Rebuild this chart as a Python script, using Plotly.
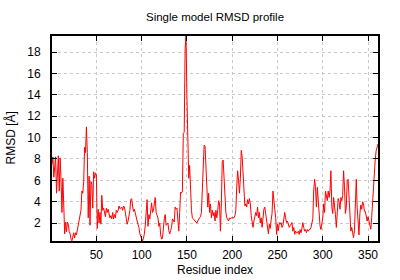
import plotly.graph_objects as go

residues = list(range(1, 362))
rmsd = [
    7.5, 8.2, 6.3, 7.6, 8.2, 4.8, 6.6, 8.3, 5.0, 8.1,
    6.0, 3.0, 6.2, 1.8, 1.0, 2.1, 1.2, 2.1, 1.9, 1.2,
    1.0, 0.5, 0.35, 0.7, 1.1, 0.6, 1.1, 0.9, 1.4, 1.6,
    2.3, 3.0, 3.2, 5.0, 4.8, 5.9, 9.1, 8.6, 11.0, 8.6,
    2.5, 6.4, 1.8, 5.9, 5.6, 3.4, 6.8, 6.2, 6.7, 6.5,
    1.5, 3.3, 2.0, 3.0, 1.9, 4.6, 3.2, 3.4, 3.0, 2.6,
    3.4, 3.0, 3.3, 2.85, 2.5, 2.7, 2.4, 3.0, 2.4, 2.8,
    2.5, 3.2, 3.0, 3.2, 3.6, 3.35, 3.4, 3.5, 3.2, 3.6,
    3.5, 2.9, 2.4, 1.9, 2.2, 2.6, 3.2, 4.2, 4.3, 3.6,
    3.1, 3.3, 2.8, 2.5, 2.2, 1.9, 1.6, 1.0, 0.7, 0.5,
    0.33, 0.6, 1.0, 1.8, 3.3, 4.2, 1.7, 2.8, 2.4, 3.3,
    3.9, 3.0, 3.2, 3.8, 4.4, 3.0, 2.7, 2.5, 1.7, 2.0,
    0.9, 0.5, 0.6, 2.0, 2.4, 2.8, 1.8, 1.9, 2.0, 1.3,
    1.0, 1.3, 1.6, 2.4, 2.2, 2.1, 3.5, 3.3, 3.4, 2.5,
    1.25, 3.0, 4.9, 4.8, 5.0, 10.4, 10.5, 18.3, 19.5, 13.8,
    8.2, 6.2, 7.4, 4.0, 3.2, 2.5, 2.4, 2.3, 2.2, 2.1,
    2.0, 2.2, 2.4, 2.5, 2.6, 3.0, 5.1, 7.3, 9.3, 9.2,
    7.7, 6.0, 3.5, 4.8, 3.0, 3.8, 2.5, 3.2, 2.7, 3.0,
    2.2, 3.2, 2.5, 3.2, 4.1, 3.8, 1.25, 3.8, 7.7, 7.9,
    6.2, 3.3, 3.0, 2.5, 2.4, 2.2, 2.5, 2.4, 2.5, 2.5,
    2.5, 2.5, 2.7, 3.2, 5.4, 6.9, 6.0, 4.8, 6.2, 8.8,
    8.2, 6.6, 4.5, 3.6, 3.8, 3.5, 4.2, 3.8, 4.3, 3.8,
    2.7, 1.9, 1.6, 2.2, 2.5, 3.0, 2.7, 3.5, 2.5, 3.0,
    2.0, 2.5, 1.6, 2.9, 3.3, 3.5, 2.85, 2.3, 1.4, 1.0,
    1.9, 1.5, 2.3, 2.9, 5.0, 4.4, 3.3, 2.5, 0.95, 1.9,
    1.3, 2.05, 1.9, 2.05, 1.6, 1.75, 2.4, 3.0, 2.5, 2.05,
    2.2, 1.8, 1.6, 1.75, 2.0, 2.05, 1.25, 1.6, 0.95, 1.25,
    1.1, 1.1, 1.25, 0.95, 1.4, 1.1, 1.5, 2.05, 1.6, 1.25,
    1.4, 1.1, 1.4, 1.25, 1.4, 1.4, 1.6, 2.2, 2.4, 5.0,
    6.1, 5.35, 3.5, 5.35, 3.8, 2.2, 1.75, 1.4, 1.9, 2.5,
    3.8, 3.0, 5.0, 4.6, 4.1, 5.0, 4.4, 5.0, 6.9, 3.5,
    2.9, 4.4, 3.8, 2.8, 1.6, 3.3, 4.3, 4.0, 3.3, 4.4,
    4.1, 4.6, 6.9, 5.4, 2.9, 3.5, 6.0, 6.1, 4.1, 2.0,
    1.25, 1.6, 0.9, 0.64, 1.3, 3.2, 6.1, 3.5, 1.9, 0.9,
    2.9, 3.7, 3.3, 4.0, 3.8, 3.1, 3.1, 2.6, 2.2, 2.6,
    2.2, 1.9, 1.43, 2.5, 4.1, 4.4, 6.0, 8.0, 8.8, 9.3,
    9.4,
]
x_ticks = [50, 100, 150, 200, 250, 300, 350]
y_ticks = [2, 4, 6, 8, 10, 12, 14, 16, 18]

FONT = "Liberation Sans, Arial, sans-serif"
TXT = dict(family=FONT, size=12, color="black")

fig = go.Figure(go.Scatter(
    x=residues, y=rmsd, mode="lines",
    line=dict(color="#ff0000", width=1),
    hoverinfo="skip",
))

axis_common = dict(
    showline=True, linecolor="black", linewidth=2, mirror="ticks",
    ticks="inside", ticklen=5, tickwidth=1, tickcolor="black",
    showgrid=True, gridcolor="#c8c8c8", griddash="dot", gridwidth=1,
    zeroline=False, tickfont=TXT, automargin=False,
)

fig.update_layout(
    width=400, height=280,
    margin=dict(l=52, r=22, t=36, b=39),
    paper_bgcolor="white", plot_bgcolor="white",
    showlegend=False,
    title=dict(text="Single model RMSD profile", x=0.5375, xanchor="center",
               y=0.94, yanchor="middle",
               font=dict(family=FONT, size=11.5, color="black")),
    xaxis=dict(axis_common, range=[min(residues), max(residues)],
               tickvals=x_ticks, ticklabelstandoff=2),
    yaxis=dict(axis_common, range=[min(rmsd), max(rmsd)],
               tickvals=y_ticks, ticklabelstandoff=7),
    annotations=[
        dict(text="Residue index", xref="paper", yref="paper",
             x=0.5, y=-0.1415, xanchor="center", yanchor="middle",
             showarrow=False, font=TXT),
        dict(text="RMSD [Å]", xref="paper", yref="paper",
             x=-0.1288, y=0.5, xanchor="center", yanchor="middle",
             textangle=-90, showarrow=False, font=TXT),
    ],
)

fig.write_html("out.html")
